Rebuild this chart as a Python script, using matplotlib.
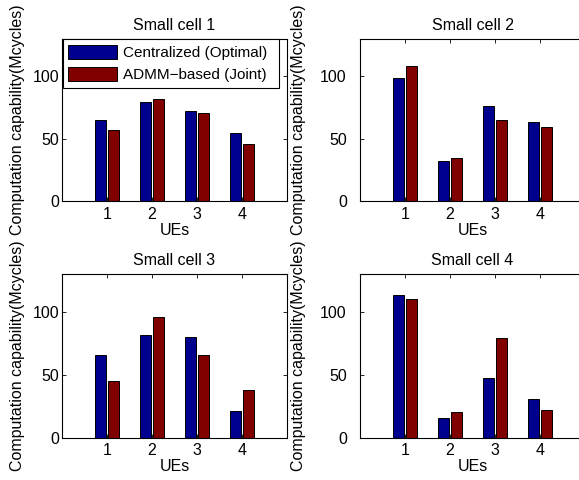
import matplotlib
matplotlib.use("Agg")
import matplotlib.pyplot as plt
import numpy as np

plt.rcParams['font.family'] = ['Liberation Sans', 'DejaVu Sans']
plt.rcParams['font.size'] = 11

ues = [1, 2, 3, 4]
titles = ["Small cell 1", "Small cell 2", "Small cell 3", "Small cell 4"]
centralized = [
    [64.8, 79.6, 72.0, 54.5],
    [98.7, 32.0, 76.2, 63.7],
    [65.3, 81.7, 80.2, 21.4],
    [113.5, 15.3, 47.1, 31.0],
]
admm = [
    [57.1, 81.7, 70.9, 45.5],
    [108.2, 34.9, 65.1, 59.0],
    [44.9, 96.0, 65.9, 37.8],
    [109.8, 20.3, 78.8, 22.2],
]
series_labels = ["Centralized (Optimal)", "ADMM\u2212based (Joint)"]
yticks = [0, 50, 100]

blue = "#00008F"
red = "#800000"

W, H = 579, 480
fig = plt.figure(figsize=(W / 100, H / 100), dpi=100)

# axes boxes in pixel coords (left, top, right, bottom)
boxes = [
    (62, 39, 287, 201),
    (360, 39, 585, 201),
    (62, 274, 287, 437.5),
    (360, 274, 585, 437.5),
]
ytick_pads = [2.2, 9.5, 2.2, 9.5]
ylabel_pads = [5.0, 10.5, 5.0, 10.5]

x = np.array(ues, dtype=float)
off = 0.1429
bw = 0.2286

for i, (l, t, r, b) in enumerate(boxes):
    ax = fig.add_axes([l / W, (H - b) / H, (r - l) / W, (b - t) / H])
    ax.bar(x - off, centralized[i], bw, color=blue, edgecolor="black",
           linewidth=0.7, label=series_labels[0])
    ax.bar(x + off, admm[i], bw, color=red, edgecolor="black",
           linewidth=0.7, label=series_labels[1])
    ax.set_xlim(0, 5)
    ax.set_ylim(0, 130)
    ax.set_xticks(ues)
    ax.set_yticks(yticks)
    ax.tick_params(direction="in", top=True, right=True, length=3, width=0.6)
    ax.tick_params(axis="x", pad=4.0, labelsize=11.5)
    ax.tick_params(axis="y", pad=ytick_pads[i], labelsize=11.5)
    for s in ax.spines.values():
        s.set_linewidth(0.8)
        s.set_color("black")
    ax.set_title(titles[i], fontsize=11.5, pad=6.5)
    ax.set_xlabel("UEs", fontsize=11.5, labelpad=1)
    ax.set_ylabel("Computation capability(Mcycles)", fontsize=11.5,
                  labelpad=ylabel_pads[i])
    if i == 0:
        leg = ax.legend(loc="upper left", bbox_to_anchor=(0.005, 0.0, 0.958, 0.997),
                        mode="expand", borderaxespad=0, fontsize=11,
                        handlelength=3.2, handleheight=1.05, labelspacing=0.45,
                        handletextpad=0.4, borderpad=0.35, fancybox=False,
                        framealpha=1, edgecolor="black")
        leg.get_frame().set_linewidth(0.8)

fig.savefig("out.png", dpi=100)
